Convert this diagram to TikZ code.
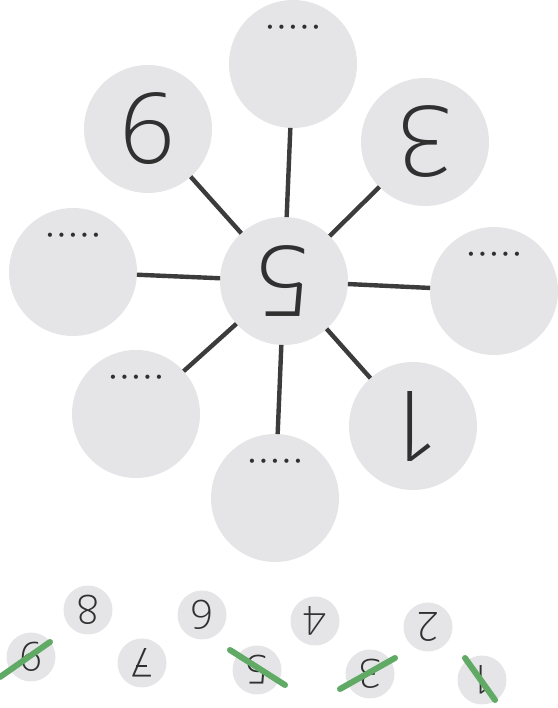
\documentclass[tikz,border=0pt]{standalone}
\usepackage{fontspec}
\IfFontExistsTF{Open Sans Light}
    {\newfontfamily\digitfont{Open Sans Light}}
    {\IfFontExistsTF{Noto Sans Light}
        {\newfontfamily\digitfont{Noto Sans Light}}
        {\newfontfamily\digitfont{Fira Sans Light}}}
\newfontfamily\dotfont{Fira Sans}
\usetikzlibrary{positioning, calc}

\definecolor{discgray}{RGB}{229,229,231}
\definecolor{inkgray}{RGB}{48,48,48}
\definecolor{spokegray}{RGB}{60,60,60}
\definecolor{strikegreen}{RGB}{96,170,102}

\newcommand{\blankdots}{.\hspace{4.3pt}.\hspace{4.3pt}.\hspace{4.3pt}.\hspace{4.3pt}.}

\begin{document}
\begin{tikzpicture}[x=1pt, y=1pt,
    bigdisc/.style={circle, fill=discgray, minimum size=128pt, inner sep=0pt,
                    outer sep=0pt, text=inkgray, rotate=180,
                    font=\digitfont\fontsize{98}{98}\selectfont},
    smalldisc/.style={circle, fill=discgray, minimum size=49pt, inner sep=0pt,
                      outer sep=0pt, text=inkgray, rotate=180,
                      font=\digitfont\fontsize{40}{40}\selectfont},
    dotlbl/.style={rotate=180, inner sep=0pt, text=inkgray,
                   font=\dotfont\fontsize{30}{30}\selectfont},
    spoke/.style={line width=4.4pt, spokegray},
    strike/.style={line width=6pt, line cap=round, strikegreen}]
    \useasboundingbox (0,0) rectangle (557,708);

    % the flower
    \node[bigdisc] (c5) at (284,427) {5};
    \node[bigdisc] (dtop) at (293,644) {};
    \node[bigdisc] (c9) at (148,579) {9};
    \node[bigdisc] (c3) at (425,566) {3};
    \node[bigdisc] (dleft) at (73,436) {};
    \node[bigdisc] (dright) at (494,417) {};
    \node[bigdisc] (dlow) at (136,294) {};
    \node[bigdisc] (dbottom) at (275,210) {};
    \node[bigdisc] (c1) at (413,282) {1};

    \node[dotlbl] (dtoptxt) at ([yshift=37pt]dtop.center) {\blankdots};
    \node[dotlbl] (dlefttxt) at ([yshift=37pt]dleft.center) {\blankdots};
    \node[dotlbl] (drighttxt) at ([yshift=37pt]dright.center) {\blankdots};
    \node[dotlbl] (dlowtxt) at ([yshift=37pt]dlow.center) {\blankdots};
    \node[dotlbl] (dbottomtxt) at ([yshift=37pt]dbottom.center) {\blankdots};

    \foreach \leaf in {dtop, c9, c3, dleft, dright, dlow, dbottom, c1}
        \draw[spoke] (c5) -- (\leaf);

    % number cards
    \node[smalldisc] (s9) at (31,51) {9};
    \node[smalldisc] (s8) at (88,98) {8};
    \node[smalldisc] (s7) at (142,45) {7};
    \node[smalldisc] (s6) at (202,93) {6};
    \node[smalldisc] (s5) at (257,38) {5};
    \node[smalldisc] (s4) at (315,87) {4};
    \node[smalldisc] (s3) at (370,34) {3};
    \node[smalldisc] (s2) at (428,81) {2};
    \node[smalldisc] (s1) at (482,28) {1};
    % bar across the seven
    \draw[inkgray, line width=2.2pt] ([shift={(-6,-3)}]s7.center) -- ([shift={(5,-3)}]s7.center);

    % used cards are struck out
    \draw[strike] ($(s9.center)+(-31,-20)$) -- ($(s9.center)+(19,15)$);
    \draw[strike] ($(s5.center)+(-27,20)$) -- ($(s5.center)+(28,-15)$);
    \draw[strike] ($(s3.center)+(-30,-15)$) -- ($(s3.center)+(25,16)$);
    \draw[strike] ($(s1.center)+(-17,22)$) -- ($(s1.center)+(13,-20)$);
\end{tikzpicture}
\end{document}
